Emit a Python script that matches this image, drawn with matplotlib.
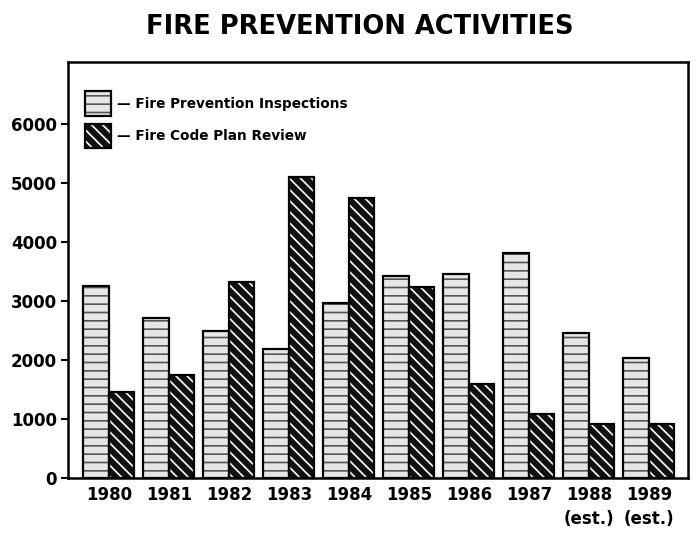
import matplotlib
matplotlib.use('Agg')
import matplotlib.pyplot as plt
import matplotlib.patches as patches
from matplotlib.legend_handler import HandlerTuple
import numpy as np

plt.rcParams['font.family'] = 'DejaVu Sans'
plt.rcParams['font.weight'] = 'bold'
plt.rcParams['hatch.linewidth'] = 1.2

# data
years = ['1980', '1981', '1982', '1983', '1984', '1985', '1986', '1987',
         '1988\n(est.)', '1989\n(est.)']
inspections = [3250, 2720, 2500, 2180, 2960, 3430, 3460, 3820, 2450, 2030]
plan_review = [1460, 1740, 3320, 5110, 4750, 3230, 1600, 1080, 920, 920]
y_ticks = [0, 1000, 2000, 3000, 4000, 5000, 6000]

fig = plt.figure(figsize=(6.96, 5.35), dpi=100)
ax = fig.add_axes([0.0977, 0.1065, 0.8908, 0.7775])

x = np.arange(len(years))
w = 0.425

# inspections: light grey with horizontal dash pattern
ax.bar(x - w / 2, inspections, w, color='#e6e6e6', edgecolor='#555555',
       hatch='--', linewidth=0, zorder=2)
ax.bar(x - w / 2, inspections, w, fill=False, edgecolor='black',
       linewidth=1.6, zorder=3)

# plan review: black with white diagonal stripes
ax.bar(x + w / 2, plan_review, w, color='#111111', edgecolor='white',
       hatch='\\\\\\', linewidth=0, zorder=2)
ax.bar(x + w / 2, plan_review, w, fill=False, edgecolor='black',
       linewidth=1.6, zorder=3)

ax.set_xlim(-0.68, 9.65)
ax.set_ylim(0, 7050)
ax.set_yticks(y_ticks)
ax.set_yticklabels([str(v) for v in y_ticks], fontsize=12, fontweight='bold')
ax.set_xticks(x)
ax.set_xticklabels(years, fontsize=12, fontweight='bold', linespacing=1.4)
ax.tick_params(axis='y', direction='out', length=5, width=1.5, pad=3)
ax.tick_params(axis='x', length=0, pad=6)
for s in ax.spines.values():
    s.set_linewidth(1.8)

# legend
h1a = patches.Patch(facecolor='#e6e6e6', edgecolor='#555555', hatch='--', linewidth=0)
h1b = patches.Patch(fill=False, edgecolor='black', linewidth=1.6)
h2a = patches.Patch(facecolor='#111111', edgecolor='white', hatch='\\\\\\', linewidth=0)
h2b = patches.Patch(fill=False, edgecolor='black', linewidth=1.6)
ax.legend([(h1a, h1b), (h2a, h2b)],
          ['\u2014 Fire Prevention Inspections', '\u2014 Fire Code Plan Review'],
          handler_map={tuple: HandlerTuple(ndivide=1, pad=0)},
          loc='upper left', bbox_to_anchor=(0.028, 0.93), frameon=False,
          borderpad=0, borderaxespad=0,
          handlelength=1.85, handleheight=2.4, handletextpad=0.45,
          labelspacing=0.6, prop={'size': 9.8, 'weight': 'bold'})

fig.text(0.517, 0.95, 'FIRE PREVENTION ACTIVITIES', ha='center', va='center',
         fontsize=18.5, fontweight='bold')

fig.savefig('out.png', dpi=100)
